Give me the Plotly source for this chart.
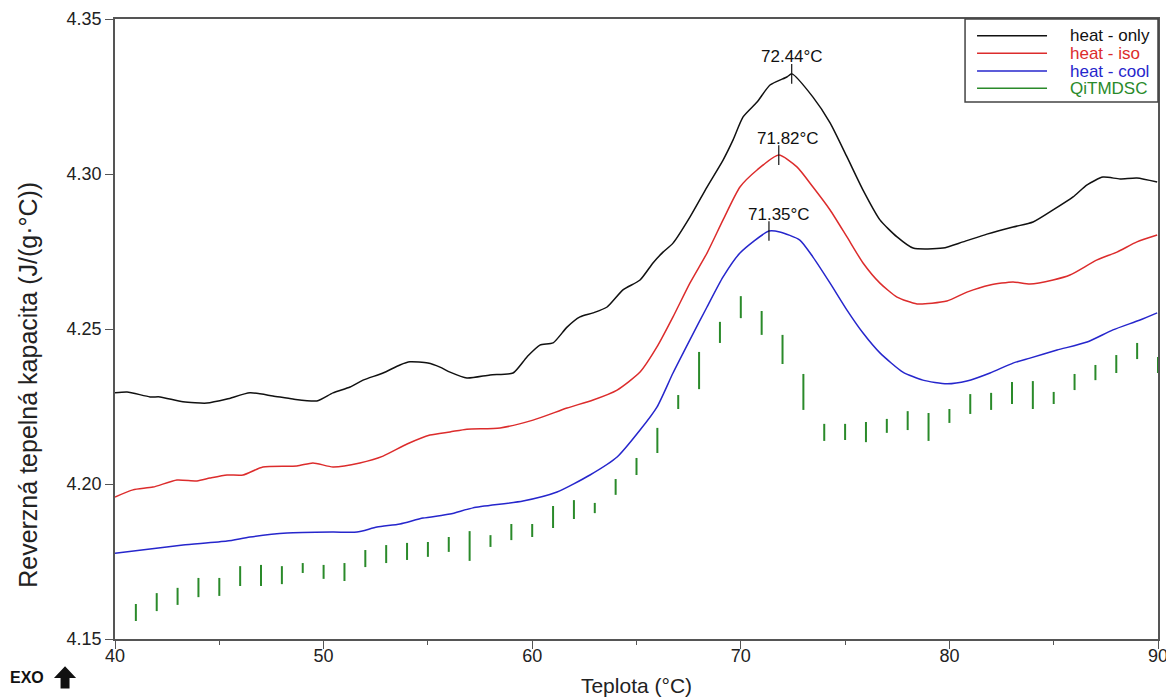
import plotly.graph_objects as go

# --- data ---
only_t = [40.00, 40.58, 41.68, 42.16, 43.26, 44.41, 45.37, 46.47, 47.57, 48.53, 49.68, 50.45,
          51.27, 51.89, 52.85, 53.66, 54.14, 55.00, 55.58, 56.06, 56.87, 57.98, 59.08, 59.75,
          60.37, 61.00, 61.67, 62.29, 62.92, 63.59, 64.35, 65.17, 65.79, 66.27, 66.75, 67.56,
          68.38, 69.15, 69.63, 70.11, 70.78, 71.40, 72.21, 72.45, 73.46, 74.28, 75.09, 75.86,
          76.67, 77.49, 78.26, 79.69, 80.65, 81.80, 83.05, 84.01, 84.97, 85.93, 86.60, 87.36,
          88.18, 88.99, 89.96]
only_cp = [4.2294, 4.2297, 4.2281, 4.2281, 4.2265, 4.2261, 4.2274, 4.2294, 4.2284, 4.2274, 4.2268, 4.2294,
           4.2313, 4.2335, 4.2358, 4.2384, 4.2394, 4.2390, 4.2377, 4.2361, 4.2342, 4.2352, 4.2358, 4.2410,
           4.2448, 4.2455, 4.2506, 4.2539, 4.2552, 4.2571, 4.2626, 4.2658, 4.2713, 4.2748, 4.2777, 4.2861,
           4.2958, 4.3045, 4.3110, 4.3184, 4.3232, 4.3287, 4.3313, 4.3323, 4.3248, 4.3165, 4.3055, 4.2948,
           4.2852, 4.2797, 4.2761, 4.2761, 4.2781, 4.2806, 4.2829, 4.2845, 4.2884, 4.2926, 4.2965, 4.2990,
           4.2984, 4.2987, 4.2974]

iso_t = [40.00, 40.86, 41.82, 42.97, 43.93, 44.55, 45.37, 46.14, 47.09, 48.72, 49.49, 50.45,
         51.74, 52.85, 54.00, 55.10, 56.06, 56.87, 58.46, 60.04, 61.67, 62.92, 64.07, 65.17,
         65.98, 66.75, 67.56, 68.38, 69.15, 69.96, 70.78, 71.82, 72.69, 73.46, 74.28, 75.09,
         75.86, 76.67, 77.49, 78.45, 79.88, 80.84, 81.95, 83.05, 83.86, 84.97, 85.78, 87.08,
         88.03, 88.99, 89.96]
iso_cp = [4.1958, 4.1981, 4.1990, 4.2013, 4.2010, 4.2019, 4.2029, 4.2029, 4.2055, 4.2058, 4.2068, 4.2055,
          4.2068, 4.2090, 4.2129, 4.2158, 4.2168, 4.2177, 4.2181, 4.2206, 4.2245, 4.2271, 4.2303, 4.2361,
          4.2442, 4.2539, 4.2648, 4.2745, 4.2852, 4.2958, 4.3013, 4.3061, 4.3023, 4.2958, 4.2884, 4.2797,
          4.2713, 4.2648, 4.2603, 4.2581, 4.2590, 4.2619, 4.2642, 4.2652, 4.2645, 4.2658, 4.2674, 4.2723,
          4.2748, 4.2781, 4.2803]

cool_t = [40.00, 41.68, 43.26, 45.37, 46.47, 48.25, 50.45, 51.60, 52.56, 53.66, 54.77, 56.06,
          57.16, 59.56, 61.19, 62.77, 64.07, 65.17, 65.98, 66.75, 67.56, 68.38, 69.15, 69.96,
          71.35, 71.87, 72.83, 73.46, 74.28, 75.09, 75.86, 76.67, 77.77, 78.73, 79.88, 80.84,
          81.95, 83.05, 83.86, 85.16, 86.60, 87.84, 89.14, 89.96]
cool_cp = [4.1777, 4.1790, 4.1803, 4.1816, 4.1829, 4.1842, 4.1845, 4.1845, 4.1861, 4.1871, 4.1890, 4.1903,
           4.1923, 4.1945, 4.1974, 4.2029, 4.2087, 4.2174, 4.2248, 4.2358, 4.2465, 4.2571, 4.2668, 4.2745,
           4.2816, 4.2813, 4.2787, 4.2732, 4.2648, 4.2561, 4.2487, 4.2423, 4.2361, 4.2335, 4.2323, 4.2332,
           4.2358, 4.2390, 4.2406, 4.2432, 4.2458, 4.2497, 4.2529, 4.2552]

qi_t = list(range(41, 91))
qi_lo = [4.1558, 4.1590, 4.1610, 4.1635, 4.1639, 4.1671, 4.1671, 4.1677, 4.1713, 4.1694,
         4.1687, 4.1732, 4.1745, 4.1755, 4.1765, 4.1781, 4.1752, 4.1797, 4.1819, 4.1829,
         4.1858, 4.1887, 4.1906, 4.1965, 4.2029, 4.2100, 4.2242, 4.2306, 4.2455, 4.2535,
         4.2481, 4.2387, 4.2239, 4.2139, 4.2142, 4.2135, 4.2165, 4.2174, 4.2139, 4.2197,
         4.2226, 4.2239, 4.2258, 4.2242, 4.2258, 4.2303, 4.2335, 4.2358, 4.2403, 4.2358]
qi_hi = [4.1613, 4.1648, 4.1665, 4.1697, 4.1697, 4.1735, 4.1739, 4.1735, 4.1745, 4.1739,
         4.1745, 4.1787, 4.1803, 4.1810, 4.1813, 4.1829, 4.1848, 4.1835, 4.1871, 4.1871,
         4.1929, 4.1948, 4.1939, 4.2016, 4.2084, 4.2181, 4.2287, 4.2426, 4.2523, 4.2606,
         4.2558, 4.2481, 4.2355, 4.2194, 4.2194, 4.2200, 4.2210, 4.2235, 4.2229, 4.2242,
         4.2290, 4.2294, 4.2329, 4.2332, 4.2297, 4.2355, 4.2384, 4.2416, 4.2455, 4.2410]

peak_t = [72.44, 71.82, 71.35]
peak_cp = [4.3323, 4.3061, 4.2816]

names = ["heat - only", "heat - iso", "heat - cool", "QiTMDSC"]
colors = ["#111111", "#dc2c2c", "#2626cc", "#2a8a2a"]

FONT = "Arial, Liberation Sans, sans-serif"

fig = go.Figure()

for t, cp, c, n in [(only_t, only_cp, colors[0], names[0]),
                    (iso_t, iso_cp, colors[1], names[1]),
                    (cool_t, cool_cp, colors[2], names[2])]:
    fig.add_trace(go.Scatter(x=t, y=cp, mode="lines", name=n,
                             line=dict(color=c, width=1.5, shape="spline", smoothing=0.6),
                             showlegend=False))

# QiTMDSC vertical bars, one segment per temperature
bx, by = [], []
for t, lo, hi in zip(qi_t, qi_lo, qi_hi):
    bx += [t, t, None]
    by += [lo, hi, None]
fig.add_trace(go.Scatter(x=bx, y=by, mode="lines", name=names[3],
                         line=dict(color=colors[3], width=2), showlegend=False))

# peak markers
fig.add_trace(go.Scatter(x=peak_t, y=peak_cp, mode="markers", showlegend=False,
                         marker=dict(symbol="line-ns", size=14,
                                     line=dict(color="#111111", width=1.2))))
for t, cp, dx in zip(peak_t, peak_cp, [0, 9, 10]):
    fig.add_annotation(x=t, y=cp, text=f"{t:.2f}°C", showarrow=False,
                       yshift=17, xshift=dx, font=dict(size=17, color="#111111", family=FONT))

# hand-drawn legend box like the original
fig.add_shape(type="rect", xref="paper", yref="paper", x0=0.815, x1=1.0, y0=0.866, y1=1.0,
              line=dict(color="#444444", width=1.5), fillcolor="white")
row_y = [0.9731, 0.9447, 0.9161, 0.8882]
for n, c, yy in zip(names, colors, row_y):
    fig.add_shape(type="line", xref="paper", yref="paper", x0=0.8265, x1=0.8936, y0=yy, y1=yy,
                  line=dict(color=c, width=1.5))
    fig.add_annotation(xref="paper", yref="paper", x=0.9137, y=yy, text=n, showarrow=False,
                       xanchor="left", yanchor="middle", font=dict(size=17, color=c, family=FONT))

# y title sits a bit below the middle of the axis in the original
fig.add_annotation(xref="paper", yref="paper", x=-0.0834, y=0.41, textangle=-90,
                   text="Reverzná tepelná kapacita (J/(g·°C))", showarrow=False,
                   xanchor="center", yanchor="middle",
                   font=dict(size=25, color="#222222", family=FONT))

# EXO marker with up arrow
fig.add_annotation(xref="paper", yref="paper", x=-0.1026, y=-0.0629, text="<b>EXO</b>",
                   showarrow=False, xanchor="left", yanchor="middle",
                   font=dict(size=16, color="#111111", family=FONT))
fig.add_shape(type="path", xref="paper", yref="paper",
              path="M -0.0585,-0.0629 L -0.0479,-0.0440 L -0.0373,-0.0629 L -0.0436,-0.0629 "
                   "L -0.0436,-0.0800 L -0.0522,-0.0800 L -0.0522,-0.0629 Z",
              fillcolor="#111111", line=dict(width=0))

# the page has an 8px body margin, so the figure is 8px smaller than the window
fig.update_layout(
    width=1166, height=689,
    margin=dict(l=107, r=16, t=11, b=58),
    plot_bgcolor="white", paper_bgcolor="white",
    font=dict(family=FONT, size=18, color="#222222"),
    xaxis=dict(
        range=[40, 90], dtick=10, ticks="outside", ticklen=8, tickcolor="#555555",
        minor=dict(dtick=5, ticks="outside", ticklen=4, tickcolor="#555555"),
        showline=True, linecolor="#555555", linewidth=1.5, mirror=True,
        showgrid=False, zeroline=False, automargin=False, ticklabelstandoff=-8,
        title=dict(text="Teplota (°C)", standoff=14, font=dict(size=21)),
    ),
    yaxis=dict(
        range=[4.15, 4.35], dtick=0.05, tickformat=".2f", ticks="outside", ticklen=8,
        tickcolor="#555555",
        showline=True, linecolor="#555555", linewidth=1.5, mirror=True,
        showgrid=False, zeroline=False, automargin=False,
    ),
)

fig.write_html("out.html")
